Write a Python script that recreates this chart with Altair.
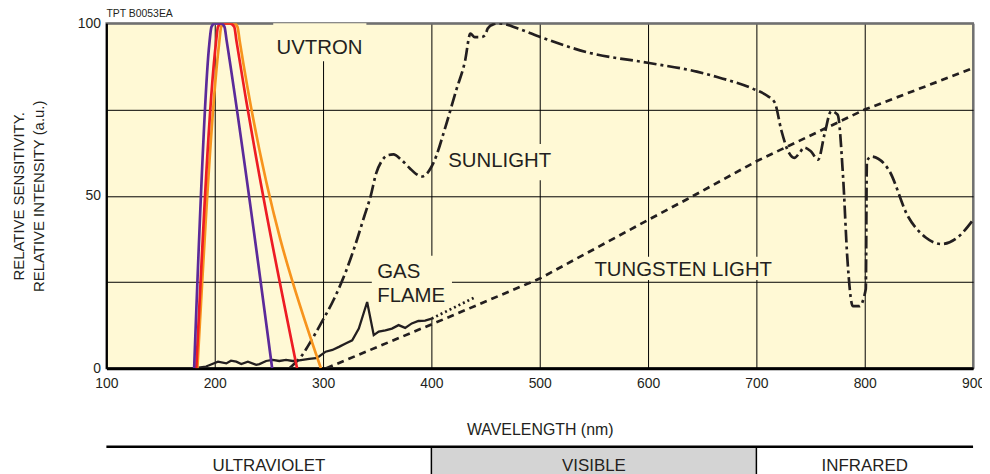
import altair as alt
import pandas as pd

# ---------------- data ----------------
# UVTRON spectral response curves (three tube types)
purple_nm = [181, 195, 197, 200, 206, 209, 211, 253]
purple_val = [0, 94, 99, 100, 100, 99, 95, 0]
red_nm = [183, 201, 203, 206, 214, 218, 220, 276]
red_val = [0, 94, 99, 100, 100, 99, 95, 0]
orange_nm = [184, 204, 206, 210, 218, 221, 223, 298]
orange_val = [0, 94, 99, 100, 100, 99, 95, 0]

# Sunlight
sun_nm = [269, 280, 290, 299, 310, 321, 330, 338, 344, 349, 354, 360, 365, 372, 380, 386,
          391, 396, 402, 413, 423, 431, 436, 440, 446, 449.5, 452, 457, 463, 480, 501, 544,
          601, 645, 663, 697, 710, 717, 723, 730, 735, 740, 744, 750, 757, 763, 769, 775,
          780, 784, 789, 795, 801, 802, 806, 822, 840, 856, 871, 886, 900]
sun_val = [0, 3.5, 8.5, 13.5, 20, 28, 36, 44, 50, 56.5, 60, 61.8, 62, 60.5, 58, 56.3,
           55.6, 56.5, 59.6, 70, 80.7, 89, 97, 96, 96, 96.5, 98.5, 99.7, 100, 98.5, 96, 91.6,
           88.5, 86, 84.5, 81, 79, 77, 69, 62.5, 61, 62.5, 64, 63, 60.5, 68, 74.5, 73.5,
           55.6, 31.7, 18, 18, 23, 60, 61.4, 57.6, 44, 38, 36, 38, 43]

# Gas flame (measured part, solid)
gas_nm = [181.6, 192, 196, 203, 210.7, 215, 219.9, 224.5, 230.6, 238.3, 241.3, 247.4, 253.5,
          259.6, 265.8, 271.9, 278, 287.2, 293.3, 296.3, 302.4, 308.6, 314.7, 320.8, 326.9,
          333, 340.7, 346.8, 351.4, 357.5, 363.6, 369.7, 375.8, 381.9, 388, 394.2, 400.3]
gas_val = [0, 0.5, 1.0, 1.9, 1.4, 2.2, 1.9, 1.2, 1.9, 1.0, 1.2, 2.1, 2.4,
           2.1, 2.4, 2.1, 2.3, 2.7, 2.9, 3.4, 4.8, 5.3, 6.2, 7.2, 8.1,
           11.5, 19.2, 9.6, 10.6, 11.0, 11.5, 12.5, 11.7, 13.0, 13.7, 13.8, 14.4]
# Gas flame (extrapolated part, dotted)
gas_ext_nm = [400.3, 441]
gas_ext_val = [14.4, 20.7]

# Tungsten light
tung_nm = [303, 400, 500, 600, 636, 700, 800, 900]
tung_val = [0, 12.7, 26, 43, 49, 60, 75, 87]

# axis ticks
x_ticks = [100, 200, 300, 400, 500, 600, 700, 800, 900]
y_ticks = [0, 25, 50, 75, 100]

# curve labels
label_text = ["UVTRON", "SUNLIGHT", "GAS", "FLAME", "TUNGSTEN LIGHT"]
label_nm = [257, 415.6, 350, 350, 550.5]
label_val = [92.8, 60, 27.9, 21, 28.5]
# label background boxes
box_nm = [254, 412, 345, 546]
box_nm2 = [340, 522, 419, 722]
box_val = [100, 65, 14.6, 25.6]
box_val2 = [89, 54.5, 32.6, 32.3]

# spectrum regions
region_label = ["ULTRAVIOLET", "VISIBLE", "INFRARED"]
region_start = [100, 400, 700]
region_end = [400, 700, 900]
region_fill = ["#ffffff", "#d4d4d4", "#ffffff"]

FONT = "Liberation Sans"
BG = "#FFF9D5"
INK = "#231F20"

def df(nm, val):
    return pd.DataFrame({"nm": nm, "val": val, "i": range(len(nm))})

xscale = alt.Scale(domain=[100, 900], nice=False, zero=False)
yscale = alt.Scale(domain=[0, 100], nice=False, zero=False)

x_axis = alt.Axis(
    values=x_ticks, title="WAVELENGTH (nm)", grid=True, ticks=False,
    gridColor={"condition": {"test": "datum.value == 900", "value": "#707070"}, "value": "black"},
    gridWidth={"condition": {"test": "datum.value == 900", "value": 2}, "value": 1},
    domainColor="black", domainWidth=3, labelPadding=8, labelFontSize=14,
    labelColor=INK, titleFontSize=16, titleFontWeight="normal", titleColor=INK,
    titlePadding=32, labelFont=FONT, titleFont=FONT, labelFlush=False,
)
y_axis = alt.Axis(
    values=y_ticks, title=["RELATIVE SENSITIVITY.", "RELATIVE INTENSITY (a.u.)"],
    grid=True, ticks=False,
    gridColor={"condition": {"test": "datum.value == 100", "value": "#707070"}, "value": "black"},
    gridWidth={"condition": {"test": "datum.value == 100", "value": 2}, "value": 1},
    labelExpr="datum.value % 50 == 0 ? datum.label : ''",
    domainColor="black", domainWidth=2, labelPadding=6, labelFontSize=14,
    labelColor=INK, titleFontSize=15, titleFontWeight="normal", titleColor=INK,
    titlePadding=31, titleLineHeight=20, labelFont=FONT, titleFont=FONT,
)

def curve(nm, val, color, width, dash=None, interp="monotone"):
    kw = dict(color=color, strokeWidth=width, interpolate=interp, clip=True)
    if dash:
        kw["strokeDash"] = dash
    return alt.Chart(df(nm, val)).mark_line(**kw).encode(
        x=alt.X("nm:Q", scale=xscale, axis=x_axis),
        y=alt.Y("val:Q", scale=yscale, axis=y_axis),
        order="i:O",
    )

boxes = alt.Chart(pd.DataFrame({"x": box_nm, "x2": box_nm2, "y": box_val, "y2": box_val2})).mark_rect(
    color=BG
).encode(
    x=alt.X("x:Q", scale=xscale, axis=x_axis), x2="x2:Q",
    y=alt.Y("y:Q", scale=yscale, axis=y_axis), y2="y2:Q",
)

labels = alt.Chart(pd.DataFrame({"t": label_text, "nm": label_nm, "val": label_val})).mark_text(
    align="left", baseline="middle", fontSize=20.5, font=FONT, color=INK
).encode(x=alt.X("nm:Q", scale=xscale), y=alt.Y("val:Q", scale=yscale), text="t:N")

main = alt.layer(
    boxes,
    curve(tung_nm, tung_val, INK, 2.7, [7, 5], "linear"),
    curve(gas_ext_nm, gas_ext_val, INK, 2.7, [2, 3], "linear"),
    curve(gas_nm, gas_val, INK, 2.3, None, "linear"),
    curve(sun_nm, sun_val, INK, 2.7, [13, 4, 3, 4]),
    curve(orange_nm, orange_val, "#F7941D", 2.7),
    curve(red_nm, red_val, "#ED1C24", 2.7),
    curve(purple_nm, purple_val, "#5B2A9A", 2.7),
    labels,
).properties(
    width=872, height=347,
    title=alt.TitleParams("TPT B0053EA", anchor="start", frame="group", fontSize=10.5,
                          fontWeight="normal", font=FONT, color=INK, offset=-3),
    view=alt.ViewBackground(fill=BG, stroke="#707070", strokeWidth=2),
)

# spectrum band
reg = pd.DataFrame({"label": region_label, "start": region_start, "end": region_end,
                    "fill": region_fill})
reg["mid"] = (reg["start"] + reg["end"]) / 2
bx = alt.Scale(domain=[100, 900], nice=False, zero=False)
band_rect = alt.Chart(reg).mark_rect().encode(
    x=alt.X("start:Q", scale=bx, axis=None), x2="end:Q",
    y=alt.value(0), y2=alt.value(32),
    fill=alt.Fill("fill:N", scale=None),
)
band_div = alt.Chart(reg[reg["start"] > 100]).mark_rule(color="black", strokeWidth=1.5).encode(
    x=alt.X("start:Q", scale=bx, axis=None), y=alt.value(0), y2=alt.value(32),
)
band_top = alt.Chart(pd.DataFrame({"a": [100], "b": [900]})).mark_rule(
    color="black", strokeWidth=2.5).encode(
    x=alt.X("a:Q", scale=bx, axis=None), x2="b:Q", y=alt.value(0),
)
band_text = alt.Chart(reg).mark_text(fontSize=17, font=FONT, color=INK, baseline="middle").encode(
    x=alt.X("mid:Q", scale=bx, axis=None), y=alt.value(19), text="label:N",
)
band = alt.layer(band_rect, band_div, band_top, band_text).properties(
    width=872, height=32,
    view=alt.ViewBackground(fill="white", strokeWidth=0),
)

chart = alt.vconcat(main, band, spacing=6).properties(
    padding={"left": 2, "top": -2, "right": -4, "bottom": 0}
).configure_view(stroke=None).configure(font=FONT, background="white")

chart.save("out.html", embed_options={"renderer": "svg", "actions": False})
